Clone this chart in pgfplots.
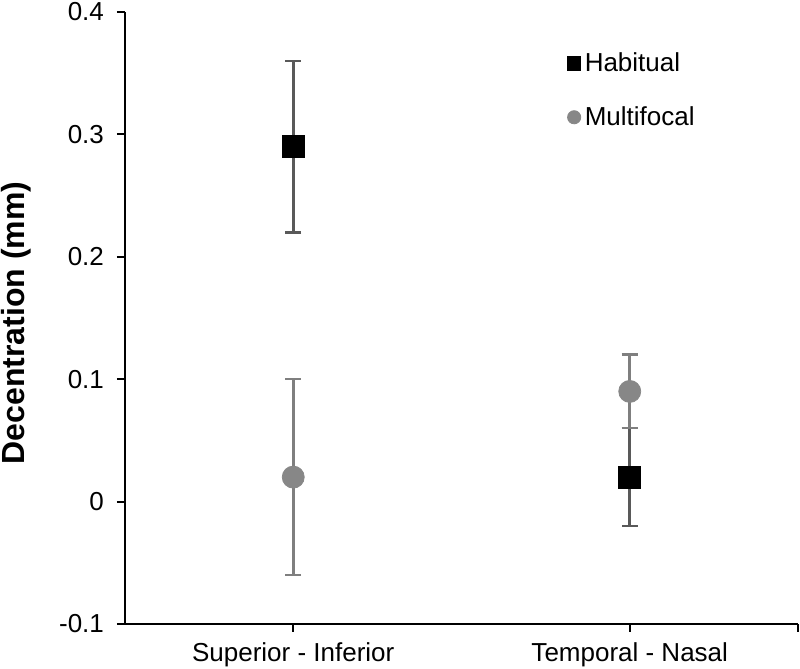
\documentclass[border=0pt]{standalone}
\usepackage{pgfplots}
\pgfplotsset{compat=1.18}
\usepackage{fontspec}
\setmainfont{Liberation Sans}
\definecolor{haberr}{HTML}{595959}
\definecolor{mul}{HTML}{878787}
\definecolor{mulerr}{HTML}{7F7F7F}
\begin{document}
\begin{tikzpicture}
\begin{axis}[
  scale only axis, width=336.5pt, height=306pt,
  xmin=0.5, xmax=2.5, ymin=-0.1, ymax=0.4,
  axis x line=bottom, axis y line=left,
  axis line style={-, line width=1.1pt, black},
  xtick={1,2}, xticklabels={Superior - Inferior, Temporal - Nasal},
  extra x ticks={2.5}, extra x tick labels={},
  ytick={-0.1,0,0.1,0.2,0.3,0.4},
  /pgf/number format/assume math mode=true,
  yticklabel style={/pgf/number format/fixed, /pgf/number format/precision=1, xshift=-3pt},
  xticklabel style={yshift=-2pt},
  tick align=outside, major tick length=4pt,
  tick style={black, line width=1pt},
  ticklabel style={font=\fontsize{13}{15.6}\selectfont},
  ylabel={Decentration (mm)},
  ylabel style={font=\fontsize{16}{19}\selectfont\bfseries, at={(axis description cs:-0.161,0.492)}, anchor=center},
  legend style={draw=none, fill=none, at={(axis description cs:0.657,0.941)}, anchor=north west,
    font=\fontsize{13}{15.6}\selectfont, row sep=12pt, inner sep=0pt},
  legend cell align=left,
  legend image code/.code={\draw[#1, mark size=3.3pt] plot coordinates {(0.1cm,0cm)};},
  clip=false,
]
\addplot+[only marks, mark=square*, mark size=5.5pt, black, mark options={fill=black, draw=black},
  error bars/.cd, y dir=both, y explicit,
  error bar style={haberr, line width=1.3pt},
  error mark options={rotate=90, mark size=4pt, line width=1.3pt, haberr}]
  coordinates {(1,0.29) +- (0,0.07) (2,0.02) +- (0,0.04)};
\addlegendentry{Habitual}
\addplot+[only marks, mark=*, mark size=5.5pt, mul, mark options={fill=mul, draw=mul},
  error bars/.cd, y dir=both, y explicit,
  error bar style={mulerr, line width=1.3pt},
  error mark options={rotate=90, mark size=4pt, line width=1.3pt, mulerr}]
  coordinates {(1,0.02) +- (0,0.08) (2,0.09) +- (0,0.03)};
\addlegendentry{Multifocal}
\end{axis}
\pgfresetboundingbox
\path[use as bounding box] (-62.5pt,-22.5pt) rectangle (337.5pt,312pt);
\end{tikzpicture}
\end{document}
